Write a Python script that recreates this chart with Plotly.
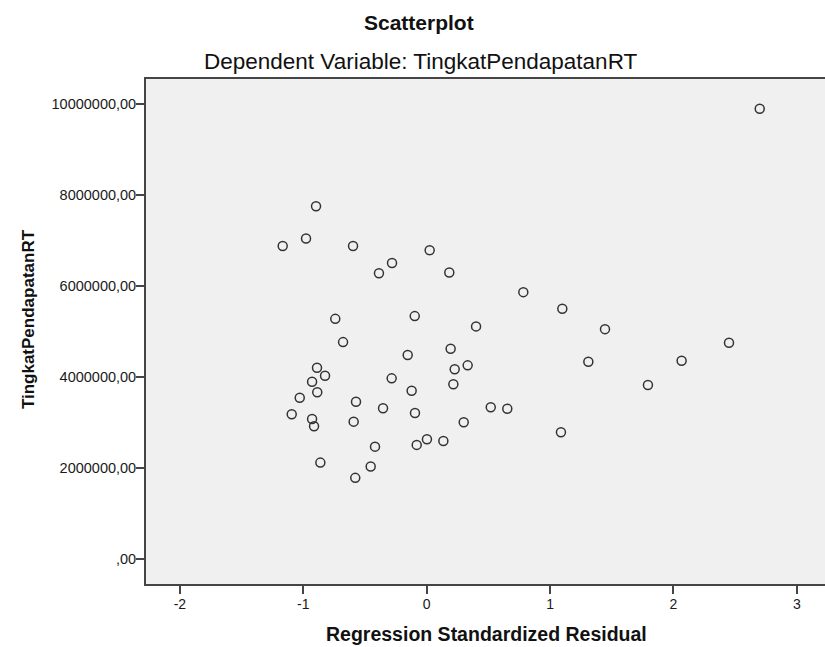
import plotly.graph_objects as go

# Regression standardized residuals (x) and TingkatPendapatanRT (y)
residual = [-0.897, -0.978, -1.167, -0.597, 0.024, -0.281, -0.387, 0.183, 0.783, 1.099,
            -0.741, -0.097, 0.400, -0.678, 0.194, -0.154, 2.699, 1.445, 2.450, 1.310,
            2.066, 1.793, 1.088, -0.889, -0.824, -0.929, 0.227, 0.332, -0.284, 0.216,
            -0.122, -0.887, -1.029, -0.573, -0.354, 0.519, 0.653, -1.094, -0.929, -0.095,
            -0.592, -0.913, 0.300, 0.002, -0.081, 0.135, -0.419, -0.862, -0.454, -0.579]
pendapatan = [7748000, 7040000, 6877000, 6877000, 6783000, 6504000, 6279000, 6294000, 5862000, 5496000,
              5276000, 5336000, 5110000, 4765000, 4619000, 4480000, 9890000, 5050000, 4750000, 4333000,
              4355000, 3822000, 2785000, 4202000, 4026000, 3895000, 4167000, 4254000, 3969000, 3838000,
              3697000, 3662000, 3544000, 3456000, 3311000, 3333000, 3303000, 3180000, 3077000, 3208000,
              3018000, 2917000, 3004000, 2632000, 2507000, 2594000, 2469000, 2118000, 2031000, 1783000]

x_tickvals = [-2, -1, 0, 1, 2, 3]
x_ticktext = ["-2", "-1", "0", "1", "2", "3"]
y_tickvals = [0, 2000000, 4000000, 6000000, 8000000, 10000000]
y_ticktext = [",00", "2000000,00", "4000000,00", "6000000,00", "8000000,00", "10000000,00"]

title_main = "Scatterplot"
title_sub = "Dependent Variable: TingkatPendapatanRT"
x_title = "Regression Standardized Residual"
y_title = "TingkatPendapatanRT"

W, H = 825, 647
ml, mr, mt, mb = 146, 0, 78.5, 62.7
pw = W - ml - mr
ph = H - mt - mb

def px_to_paper_x(px):
    return (px - ml) / pw

def px_to_paper_y(py):
    return (H - mb - py) / ph

font = "Liberation Sans, Arial, sans-serif"
axis_color = "#454545"
text_color = "#1a1a1a"

fig = go.Figure()
fig.add_trace(go.Scatter(
    x=residual, y=pendapatan, mode="markers",
    marker=dict(symbol="circle-open", size=9, color="#333333", line=dict(width=1.5, color="#333333")),
    hoverinfo="x+y", showlegend=False,
))

fig.update_layout(
    width=W, height=H,
    margin=dict(l=ml, r=mr, t=mt, b=mb, pad=0),
    paper_bgcolor="white", plot_bgcolor="#f0f0f0",
    font=dict(family=font, color=text_color, size=14),
    xaxis=dict(range=[-2.275, 3.228], tickvals=x_tickvals, ticktext=x_ticktext,
               showgrid=False, zeroline=False, showline=True, mirror=True,
               linecolor=axis_color, linewidth=1.8, ticks="outside", ticklen=8,
               tickcolor=axis_color, tickwidth=1.8, ticklabelstandoff=-2,
               tickfont=dict(family=font, size=14, color=text_color)),
    yaxis=dict(range=[-548000, 10544000], tickvals=y_tickvals, ticktext=y_ticktext,
               showgrid=False, zeroline=False, showline=True, mirror=False,
               linecolor=axis_color, linewidth=1.8, ticks="outside", ticklen=8,
               tickcolor=axis_color, tickwidth=1.8, ticklabelstandoff=-3,
               tickfont=dict(family=font, size=14.5, color=text_color)),
)

fig.add_annotation(text="<b>" + title_main + "</b>", xref="paper", yref="paper",
                   x=px_to_paper_x(419), y=px_to_paper_y(22), showarrow=False,
                   xanchor="center", yanchor="middle",
                   font=dict(family=font, size=21, color="#111111"))
fig.add_annotation(text=title_sub, xref="paper", yref="paper",
                   x=px_to_paper_x(420), y=px_to_paper_y(61), showarrow=False,
                   xanchor="center", yanchor="middle",
                   font=dict(family=font, size=22.5, color="#111111"))
fig.add_annotation(text="<b>" + x_title + "</b>", xref="paper", yref="paper",
                   x=px_to_paper_x(486), y=px_to_paper_y(634), showarrow=False,
                   xanchor="center", yanchor="middle",
                   font=dict(family=font, size=19.5, color="#111111"))
fig.add_annotation(text="<b>" + y_title + "</b>", xref="paper", yref="paper",
                   x=px_to_paper_x(28), y=px_to_paper_y(319), showarrow=False,
                   xanchor="center", yanchor="middle", textangle=-90,
                   font=dict(family=font, size=17, color="#111111"))

fig.write_html("out.html")
